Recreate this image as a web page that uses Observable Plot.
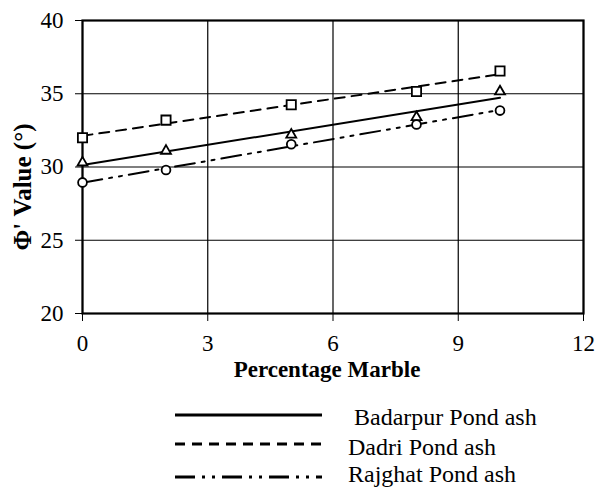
<!DOCTYPE html>
<html><head><meta charset="utf-8">
<script src="https://cdn.jsdelivr.net/npm/d3@7"></script>
<script src="https://cdn.jsdelivr.net/npm/@observablehq/plot@0.6"></script>
<style>
html,body{margin:0;padding:0;background:#fff;}
#chart svg{display:block;}
#chart svg text{fill:#000;}
</style></head><body><div id="chart"></div>
<script>
// ---- data ----
const xValues = [0, 2, 5, 8, 10];
const badarpur = [30.3, 31.1, 32.2, 33.4, 35.15];
const dadri = [32.0, 33.2, 34.25, 35.15, 36.55];
const rajghat = [28.95, 29.8, 31.55, 32.9, 33.85];
const seriesNames = ["Badarpur Pond ash", "Dadri Pond ash", "Rajghat Pond ash"];
const xTicks = [0, 3, 6, 9, 12];
const yTicks = [20, 25, 30, 35, 40];
const xLabel = "Percentage Marble";
const yLabel = "\u03A6' Value (\u00B0)";

// ---- styles ----
const font = "'Liberation Serif', 'Times New Roman', serif";
const series = [
  {name: seriesNames[0], values: badarpur, symbol: "triangle", r: 3.7, dash: null},
  {name: seriesNames[1], values: dadri, symbol: "square", r: 5.2, dash: "10,7"},
  {name: seriesNames[2], values: rajghat, symbol: "circle", r: 4.4, dash: "20,7,3,7,3,7"}
];

const marks = [
  Plot.ruleX(xTicks, {stroke: "#000", strokeWidth: 1.2}),
  Plot.ruleY(yTicks, {stroke: "#000", strokeWidth: 1.2}),
  Plot.frame({stroke: "#000", strokeWidth: 2.2})
];
series.forEach(s => {
  const rows = xValues.map((x, i) => ({x, y: s.values[i]}));
  marks.push(Plot.linearRegressionY(rows, {x: "x", y: "y", stroke: "#000", strokeWidth: 2, strokeDasharray: s.dash, ci: 0}));
});
series.forEach(s => {
  const rows = xValues.map((x, i) => ({x, y: s.values[i]}));
  marks.push(Plot.dot(rows, {x: "x", y: "y", symbol: s.symbol, r: s.r, fill: "white", stroke: "#000", strokeWidth: 1.8}));
});
marks.push(Plot.text([yLabel], {text: d => d, frameAnchor: "left", textAnchor: "middle", dx: -60, dy: 20, rotate: -90, fontWeight: "bold", fontSize: 25}));
marks.push(Plot.text([xLabel], {text: d => d, frameAnchor: "bottom", dx: -6, dy: 63, fontWeight: "bold", fontSize: 23}));

const chart = Plot.plot({
  width: 595, height: 382,
  marginLeft: 82, marginRight: 12, marginTop: 20, marginBottom: 69,
  style: {fontFamily: font, fontSize: "23px", color: "#000", background: "#fff", overflow: "hidden"},
  x: {domain: [0, 12], ticks: xTicks, tickSize: 8, tickPadding: 13, label: null, tickFormat: d => String(d)},
  y: {domain: [20, 40], ticks: yTicks, tickSize: 7, tickPadding: 12, label: null, tickFormat: d => String(d)},
  marks
});
document.getElementById("chart").appendChild(chart);

// ---- legend ----
const lineY = [33, 62, 95];
const textY = [43, 73, 100];
const leg = d3.select("#chart").append("svg")
  .attr("width", 595).attr("height", 105)
  .style("font-family", font).style("font-size", "24px");
series.forEach((s, i) => {
  leg.append("line")
    .attr("x1", 175).attr("x2", 322).attr("y1", lineY[i]).attr("y2", lineY[i])
    .attr("stroke", "#000").attr("stroke-width", 2.8)
    .attr("stroke-dasharray", s.dash);
  leg.append("text")
    .attr("x", 348).attr("y", textY[i])
    .style("white-space", "pre")
    .text((i === 0 ? " " : "") + s.name);
});
</script></body></html>
